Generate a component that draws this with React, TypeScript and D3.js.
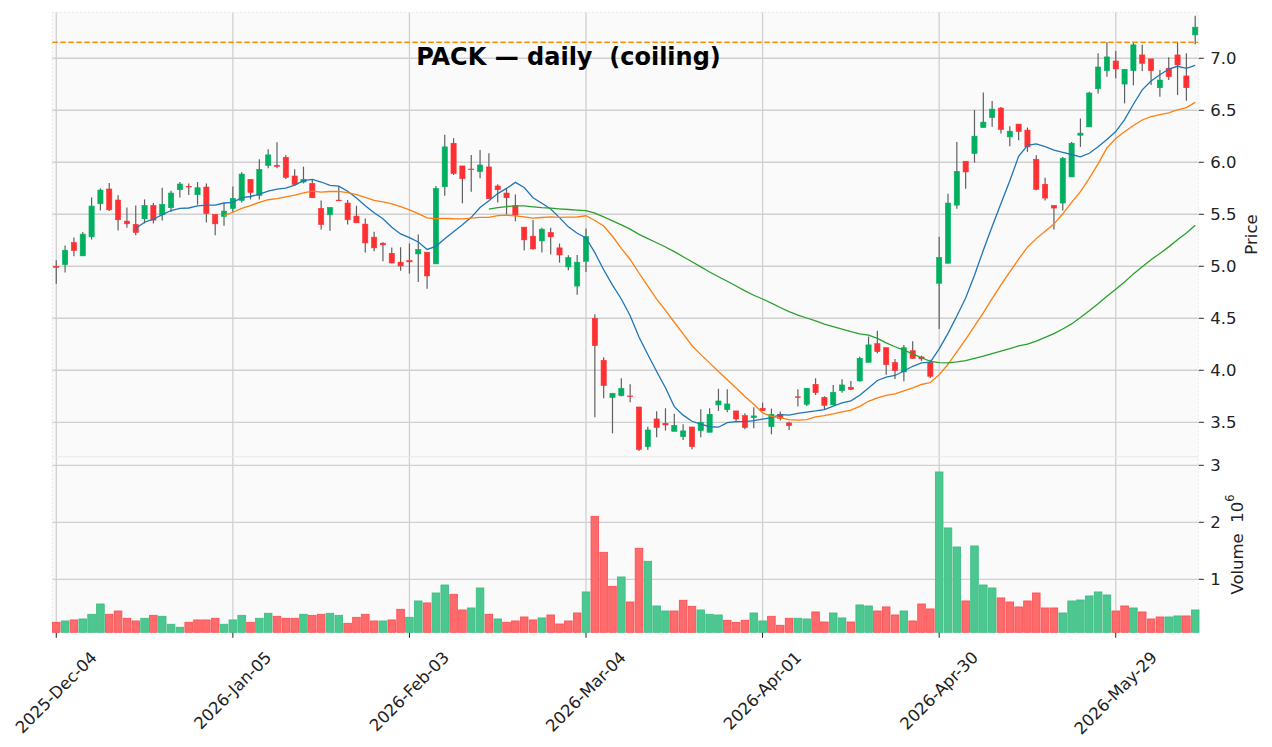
import React, { useEffect, useRef } from "react"
import * as d3 from "d3"

// daily bars
const OPEN = [
  5.0, 5.016, 5.228, 5.1, 5.283, 5.601, 5.743, 5.637, 5.434, 5.402,
  5.457, 5.585, 5.495, 5.563, 5.736, 5.768, 5.688, 5.762, 5.498, 5.479,
  5.556, 5.633, 5.836, 5.682, 5.971, 5.971, 6.048, 5.868, 5.81, 5.797,
  5.556, 5.495, 5.636, 5.608, 5.482, 5.405, 5.28, 5.222, 5.125, 5.039,
  5.055, 5.119, 5.135, 5.023, 5.765, 6.183, 5.965, 5.935, 5.91, 5.955,
  5.772, 5.704, 5.582, 5.376, 5.289, 5.244, 5.325, 5.177, 4.994, 4.81,
  5.048, 4.5, 4.096, 3.737, 3.756, 3.753, 3.647, 3.266, 3.532, 3.49,
  3.413, 3.362, 3.455, 3.42, 3.404, 3.667, 3.622, 3.609, 3.564, 3.545,
  3.635, 3.458, 3.577, 3.494, 3.745, 3.673, 3.865, 3.74, 3.667, 3.804,
  3.837, 3.897, 4.077, 4.256, 4.217, 4.073, 3.984, 4.188, 4.128, 4.077,
  4.837, 5.029, 5.588, 6.01, 6.084, 6.334, 6.431, 6.521, 6.244, 6.367,
  6.309, 6.029, 5.788, 5.585, 5.608, 5.859, 6.26, 6.341, 6.707, 6.881,
  6.974, 6.752, 6.881, 7.032, 6.994, 6.717, 6.904, 7.032, 6.83, 7.225,
]
const HIGH = [
  5.058, 5.199, 5.277, 5.33, 5.662, 5.749, 5.8, 5.682, 5.566, 5.585,
  5.643, 5.608, 5.756, 5.727, 5.81, 5.797, 5.81, 5.797, 5.5, 5.608,
  5.768, 5.904, 5.836, 6.029, 6.125, 6.193, 6.068, 5.932, 5.958, 5.83,
  5.633, 5.566, 5.772, 5.637, 5.582, 5.46, 5.331, 5.232, 5.18, 5.183,
  5.219, 5.305, 5.135, 5.772, 6.264, 6.232, 5.965, 6.071, 6.119, 6.087,
  5.788, 5.749, 5.691, 5.376, 5.444, 5.37, 5.37, 5.219, 5.106, 5.109,
  5.363, 4.538, 4.125, 3.779, 3.923, 3.865, 3.647, 3.458, 3.606, 3.635,
  3.583, 3.481, 3.455, 3.625, 3.635, 3.821, 3.817, 3.609, 3.587, 3.644,
  3.689, 3.631, 3.603, 3.506, 3.817, 3.827, 3.923, 3.75, 3.859, 3.913,
  3.897, 4.131, 4.324, 4.38, 4.217, 4.109, 4.243, 4.278, 4.14, 4.102,
  5.284, 5.698, 6.196, 6.01, 6.502, 6.672, 6.588, 6.531, 6.347, 6.367,
  6.334, 6.068, 5.852, 5.585, 6.051, 6.196, 6.421, 6.678, 7.048, 7.154,
  7.071, 6.894, 7.154, 7.129, 6.994, 6.887, 7.01, 7.154, 7.048, 7.408,
]
const LOW = [
  4.833, 4.939, 5.096, 5.1, 5.257, 5.537, 5.531, 5.344, 5.37, 5.299,
  5.412, 5.412, 5.44, 5.524, 5.662, 5.685, 5.592, 5.421, 5.299, 5.389,
  5.514, 5.614, 5.643, 5.643, 5.942, 5.942, 5.839, 5.772, 5.797, 5.659,
  5.354, 5.341, 5.63, 5.402, 5.418, 5.132, 5.145, 5.048, 5.026, 4.958,
  4.929, 4.849, 4.785, 5.023, 5.678, 5.878, 5.605, 5.717, 5.846, 5.65,
  5.614, 5.498, 5.434, 5.151, 5.161, 5.132, 5.113, 5.035, 4.961, 4.727,
  4.945, 3.548, 3.731, 3.394, 3.747, 3.692, 3.224, 3.234, 3.356, 3.42,
  3.413, 3.33, 3.24, 3.356, 3.404, 3.609, 3.596, 3.497, 3.433, 3.442,
  3.612, 3.385, 3.516, 3.426, 3.651, 3.657, 3.763, 3.619, 3.667, 3.785,
  3.811, 3.891, 4.077, 4.163, 3.958, 3.917, 3.895, 4.112, 4.09, 3.926,
  4.396, 5.029, 5.553, 5.746, 5.997, 6.334, 6.341, 6.277, 6.154, 6.212,
  6.1, 5.73, 5.633, 5.354, 5.537, 5.859, 6.148, 6.341, 6.662, 6.823,
  6.807, 6.566, 6.74, 6.878, 6.743, 6.63, 6.791, 6.646, 6.592, 7.135,
]
const CLOSE = [
  4.99, 5.154, 5.151, 5.309, 5.579, 5.733, 5.543, 5.447, 5.408, 5.325,
  5.585, 5.444, 5.595, 5.704, 5.791, 5.762, 5.755, 5.508, 5.408, 5.531,
  5.653, 5.887, 5.711, 5.932, 6.071, 5.961, 5.855, 5.788, 5.836, 5.659,
  5.402, 5.566, 5.63, 5.447, 5.418, 5.225, 5.177, 5.206, 5.032, 5.003,
  5.042, 5.161, 4.907, 5.749, 6.148, 5.891, 5.842, 5.929, 5.974, 5.65,
  5.736, 5.659, 5.492, 5.254, 5.167, 5.357, 5.283, 5.109, 5.084, 5.039,
  5.286, 4.237, 3.853, 3.779, 3.827, 3.75, 3.24, 3.426, 3.449, 3.474,
  3.471, 3.417, 3.266, 3.5, 3.577, 3.705, 3.676, 3.532, 3.449, 3.561,
  3.612, 3.577, 3.538, 3.468, 3.74, 3.827, 3.785, 3.663, 3.788, 3.859,
  3.817, 4.115, 4.244, 4.179, 4.054, 3.997, 4.217, 4.115, 4.11, 3.942,
  5.085, 5.608, 5.913, 5.907, 6.251, 6.386, 6.511, 6.315, 6.299, 6.296,
  6.148, 5.74, 5.656, 5.56, 6.039, 6.183, 6.28, 6.666, 6.916, 7.013,
  6.897, 6.894, 7.129, 6.952, 6.881, 6.791, 6.823, 6.936, 6.717, 7.299,
]
// millions of shares
const VOLUME = [
  0.246, 0.269, 0.287, 0.304, 0.386, 0.567, 0.386, 0.444, 0.316, 0.269,
  0.316, 0.368, 0.351, 0.211, 0.158, 0.246, 0.287, 0.287, 0.316, 0.211,
  0.287, 0.368, 0.246, 0.316, 0.404, 0.351, 0.316, 0.316, 0.386, 0.368,
  0.386, 0.404, 0.368, 0.228, 0.333, 0.386, 0.269, 0.269, 0.287, 0.474,
  0.333, 0.62, 0.585, 0.76, 0.9, 0.737, 0.462, 0.497, 0.848, 0.386,
  0.304, 0.246, 0.269, 0.339, 0.287, 0.322, 0.374, 0.216, 0.269, 0.409,
  0.778, 2.105, 1.474, 0.877, 1.041, 0.602, 1.544, 1.316, 0.532, 0.444,
  0.444, 0.632, 0.526, 0.462, 0.386, 0.374, 0.281, 0.246, 0.281, 0.409,
  0.269, 0.351, 0.193, 0.316, 0.316, 0.304, 0.427, 0.251, 0.409, 0.322,
  0.251, 0.55, 0.532, 0.444, 0.515, 0.374, 0.444, 0.269, 0.567, 0.48,
  2.883, 1.901, 1.567, 0.62, 1.585, 0.9, 0.848, 0.673, 0.602, 0.515,
  0.62, 0.76, 0.497, 0.497, 0.409, 0.62, 0.637, 0.708, 0.778, 0.725,
  0.444, 0.532, 0.497, 0.427, 0.304, 0.339, 0.339, 0.357, 0.357, 0.462,
]

const TICK_INDEX = [0, 20, 40, 60, 80, 100, 120]
const TICK_LABELS = [
  "2025-Dec-04",
  "2026-Jan-05",
  "2026-Feb-03",
  "2026-Mar-04",
  "2026-Apr-01",
  "2026-Apr-30",
  "2026-May-29",
]
const PRICE_TICKS = [3.5, 4.0, 4.5, 5.0, 5.5, 6.0, 6.5, 7.0]
const VOLUME_TICKS = [1, 2, 3]
const MA_WINDOWS = [10, 20, 50]
const MA_COLORS = ["#1f77b4", "#ff7f0e", "#2ca02c"]

const TITLE = "PACK \u2014 daily  (coiling)"

const W = 1272
const H = 747
const LEFT = 52.3
const RIGHT = 1198.3
const TOP = 12.3
const MID = 456.7
const BOTTOM = 632.3
const PRICE_DOMAIN: [number, number] = [3.169, 7.442]
const VOLUME_DOMAIN: [number, number] = [0.07, 3.151]

const UP = "#00b060"
const DOWN = "#fe3032"
const VOL_UP = "#4dc790"
const VOL_DOWN = "#fd6b6c"
const FONT = "DejaVu Sans, sans-serif"

const sma = (values: number[], n: number): [number, number][] => {
  const out: [number, number][] = []
  for (let i = n - 1; i < values.length; i++) {
    out.push([i, d3.mean(values.slice(i - n + 1, i + 1)) as number])
  }
  return out
}

const CandleChart: React.FC = () => {
  const ref = useRef<SVGSVGElement>(null)

  useEffect(() => {
    if (!ref.current) return
    const svg = d3.select(ref.current)
    svg.selectAll("*").remove()

    const n = CLOSE.length
    const x = d3.scaleLinear().domain([-0.45, n - 0.65]).range([LEFT, RIGHT])
    const yP = d3.scaleLinear().domain(PRICE_DOMAIN).range([MID, TOP])
    const yV = d3.scaleLinear().domain(VOLUME_DOMAIN).range([BOTTOM, MID])
    const idx = d3.range(n)

    // panel backgrounds
    svg.append("rect").attr("x", LEFT).attr("y", TOP).attr("width", RIGHT - LEFT)
      .attr("height", BOTTOM - TOP).attr("fill", "#fafafa")

    // grid
    const grid = svg.append("g").attr("stroke", "#d0d0d0").attr("stroke-width", 1.3)
    grid.selectAll(".gp").data(PRICE_TICKS).join("line")
      .attr("x1", LEFT).attr("x2", RIGHT)
      .attr("y1", (d) => yP(d)).attr("y2", (d) => yP(d))
    grid.selectAll(".gv").data(VOLUME_TICKS).join("line")
      .attr("x1", LEFT).attr("x2", RIGHT)
      .attr("y1", (d) => yV(d)).attr("y2", (d) => yV(d))
    grid.selectAll(".gx").data(TICK_INDEX).join("line")
      .attr("x1", (d) => x(d)).attr("x2", (d) => x(d))
      .attr("y1", TOP).attr("y2", BOTTOM)

    // spines
    const spines = svg.append("g").attr("fill", "none").attr("stroke", "#e8e8e8")
      .attr("stroke-width", 1).attr("stroke-dasharray", "2,2")
    spines.append("rect").attr("x", LEFT).attr("y", TOP)
      .attr("width", RIGHT - LEFT).attr("height", MID - TOP)
    spines.append("rect").attr("x", LEFT).attr("y", MID)
      .attr("width", RIGHT - LEFT).attr("height", BOTTOM - MID)

    // volume bars, coloured by close against previous close
    const volUp = (i: number) => (i === 0 ? CLOSE[0] >= OPEN[0] : CLOSE[i] >= CLOSE[i - 1])
    svg.append("g").selectAll("rect").data(idx).join("rect")
      .attr("x", (i) => x(i) - 3.8)
      .attr("width", 7.6)
      .attr("y", (i) => yV(VOLUME[i]))
      .attr("height", (i) => BOTTOM - yV(VOLUME[i]))
      .attr("fill", (i) => (volUp(i) ? VOL_UP : VOL_DOWN))
      .attr("stroke", (i) => (volUp(i) ? "#38bb80" : "#fc4c4e"))
      .attr("stroke-width", 0.8)

    // candles
    const candles = svg.append("g")
    candles.selectAll("line").data(idx).join("line")
      .attr("x1", (i) => x(i)).attr("x2", (i) => x(i))
      .attr("y1", (i) => yP(HIGH[i])).attr("y2", (i) => yP(LOW[i]))
      .attr("stroke", "#606060").attr("stroke-width", 1.2)
    candles.selectAll("rect").data(idx).join("rect")
      .attr("x", (i) => x(i) - 2.6)
      .attr("width", 5.2)
      .attr("y", (i) => yP(Math.max(OPEN[i], CLOSE[i])))
      .attr("height", (i) => Math.max(Math.abs(yP(OPEN[i]) - yP(CLOSE[i])), 0.6))
      .attr("fill", (i) => (CLOSE[i] >= OPEN[i] ? UP : DOWN))
      .attr("stroke", (i) => (CLOSE[i] >= OPEN[i] ? UP : DOWN))
      .attr("stroke-width", 0.6)

    // moving averages
    const line = d3.line<[number, number]>().x((d) => x(d[0])).y((d) => yP(d[1]))
    MA_WINDOWS.forEach((w, k) => {
      svg.append("path").datum(sma(CLOSE, w))
        .attr("fill", "none").attr("stroke", MA_COLORS[k]).attr("stroke-width", 1.3)
        .attr("d", line)
    })

    // prior high (resistance)
    const resistance = d3.max(HIGH.slice(0, -1)) as number
    svg.append("line")
      .attr("x1", LEFT).attr("x2", RIGHT)
      .attr("y1", yP(resistance)).attr("y2", yP(resistance))
      .attr("stroke", "#ff8c00").attr("stroke-width", 1.6)
      .attr("stroke-dasharray", "5.5,2.5")

    // right axis ticks + labels
    const axis = svg.append("g").attr("font-family", FONT).attr("font-size", 16.5).attr("fill", "#222")
    const rightTicks = [
      ...PRICE_TICKS.map((v) => ({ y: yP(v), t: d3.format(".1f")(v) })),
      ...VOLUME_TICKS.map((v) => ({ y: yV(v), t: String(v) })),
    ]
    axis.selectAll("line").data(rightTicks).join("line")
      .attr("x1", RIGHT + 0.5).attr("x2", RIGHT + 5.5)
      .attr("y1", (d) => d.y).attr("y2", (d) => d.y)
      .attr("stroke", "#222").attr("stroke-width", 1)
    axis.selectAll("text").data(rightTicks).join("text")
      .attr("x", RIGHT + 12).attr("y", (d) => d.y)
      .attr("dominant-baseline", "central")
      .text((d) => d.t)

    // bottom ticks + rotated date labels
    const xa = svg.append("g").attr("font-family", FONT).attr("font-size", 16.5).attr("fill", "#222")
    xa.selectAll("line").data(TICK_INDEX).join("line")
      .attr("x1", (d) => x(d)).attr("x2", (d) => x(d))
      .attr("y1", BOTTOM + 0.5).attr("y2", BOTTOM + 5.5)
      .attr("stroke", "#222").attr("stroke-width", 1)
    xa.selectAll("text").data(TICK_INDEX).join("text")
      .attr("text-anchor", "middle")
      .attr("dominant-baseline", "central")
      .text((d, k) => TICK_LABELS[k])
      .each(function (d) {
        const len = (this as SVGTextElement).getComputedTextLength()
        const cy = 648 + (len + 19) * 0.3536
        d3.select(this).attr("transform", `translate(${x(d)},${cy}) rotate(-45)`)
      })

    // axis titles
    svg.append("text")
      .attr("transform", `translate(1251,${(TOP + MID) / 2}) rotate(-90)`)
      .attr("text-anchor", "middle").attr("dominant-baseline", "central")
      .attr("font-family", FONT).attr("font-size", 16.5).attr("fill", "#222")
      .text("Price")
    const vl = svg.append("text")
      .attr("transform", `translate(1237,${(MID + BOTTOM) / 2}) rotate(-90)`)
      .attr("text-anchor", "middle").attr("dominant-baseline", "central")
      .attr("font-family", FONT).attr("font-size", 16.5).attr("fill", "#222")
      .style("white-space", "pre")
    vl.append("tspan").text("Volume  10")
    vl.append("tspan").attr("dy", -7).attr("font-size", 11.5).text("6")

    // title
    svg.append("text")
      .attr("x", 568.5).attr("y", 65)
      .attr("text-anchor", "middle")
      .attr("font-family", FONT).attr("font-size", 24).attr("font-weight", "bold")
      .attr("fill", "#000")
      .style("white-space", "pre")
      .text(TITLE)
  }, [])

  return <svg ref={ref} width={W} height={H} style={{ display: "block" }} />
}

export default function App() {
  useEffect(() => {
    document.body.style.margin = "0"
  }, [])
  return <CandleChart />
}
